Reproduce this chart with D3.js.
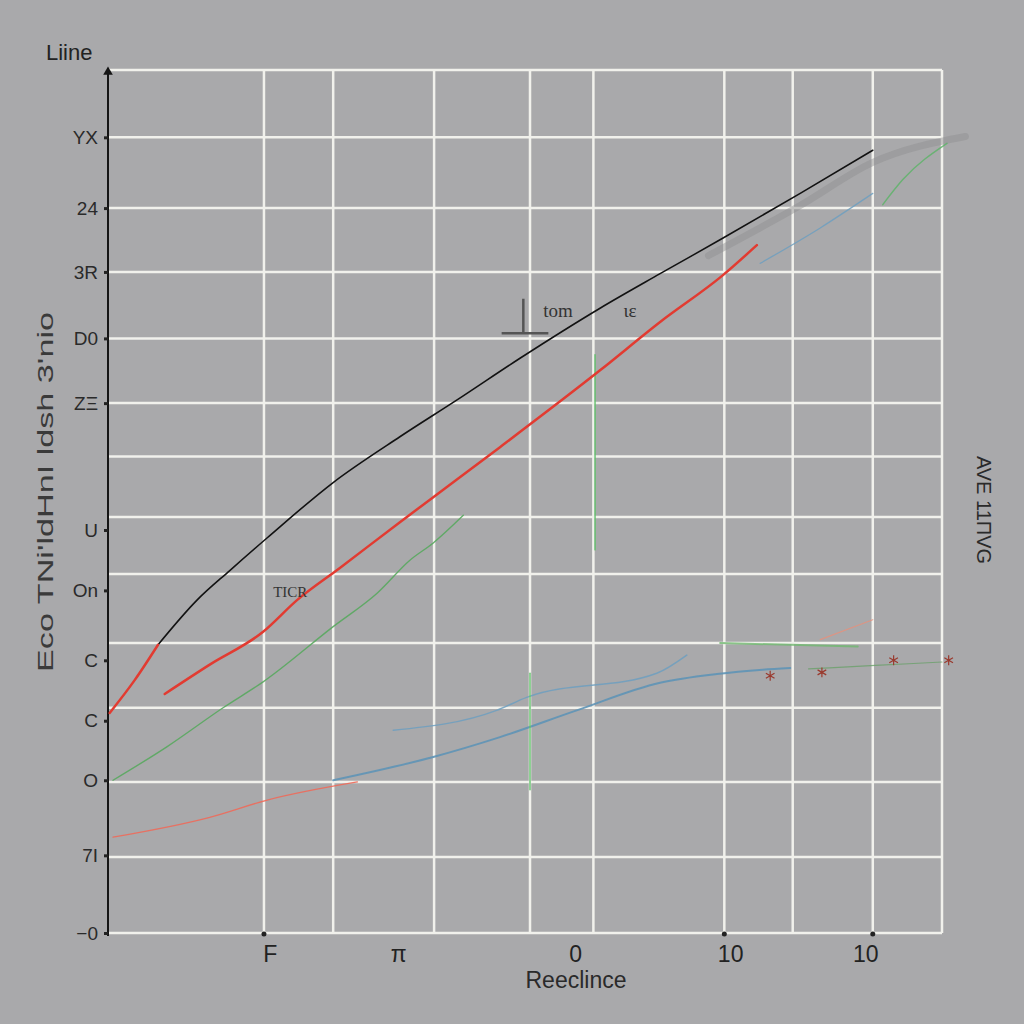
<!DOCTYPE html>
<html><head><meta charset="utf-8">
<script src="https://cdn.jsdelivr.net/npm/d3@7"></script>
<style>html,body{margin:0;padding:0;background:#a9a9ab;}svg{display:block;}</style>
</head><body>
<script>
// ---- data (chart units) ----
const xGrid = [18.7, 27.0, 39.1, 50.6, 58.2, 73.9, 82.1, 91.7, 100];
const yGrid = [100, 92.2, 84.0, 76.6, 68.9, 61.4, 55.2, 48.2, 41.6, 33.6, 26.1, 17.5, 8.8, 0];
const xTickValues = [19.4, 34.8, 56.0, 74.6, 90.8];
const xTickLabels = ["F", "π", "0", "10", "10"];
const yTickValues = [92.2, 84.0, 76.6, 68.9, 61.4, 46.7, 39.7, 31.6, 24.6, 17.7, 9.0, 0];
const yTickLabels = ["YX", "24", "3R", "D0", "ZΞ", "U", "On", "C", "C", "O", "7I", "−0"];
const title = "Liine";
const xTitle = "Reeclince";
const yTitle = "Eco TNi'ldHnI ldsh 3'nio";
const rightTitle = "AVE 11ΠVG";

const blackSeries = [[6.0,33.4],[10.7,38.6],[14.6,42.0],[19.1,45.8],[27.0,52.2],[35.0,57.5],[41.9,61.8],[49.4,66.6],[59.0,72.4],[66.2,76.4],[73.7,80.5],[83.0,85.7],[91.7,90.7]];
const redStart = [[0.2,25.5],[3.2,29.3],[6.0,33.4]];
const redSeries = [[6.8,27.7],[12.2,31.1],[18.6,34.9],[22.7,38.6],[27.8,42.3],[35.0,47.6],[39.0,50.5],[47.0,56.3],[59.0,65.2],[66.2,70.8],[73.7,76.2],[77.8,79.7]];
const greenSeries = [[0.6,17.7],[7.1,21.6],[13.8,26.1],[18.6,29.1],[27.0,35.5],[32.3,39.4],[36.2,43.2],[39.0,45.2],[42.6,48.4]];
const greenVert1 = [[58.4,44.4],[58.4,67.0]];
const greenVert2 = [[50.6,16.6],[50.6,30.1]];
const greenUpper = [[92.9,84.4],[95.3,87.3],[100.6,91.5]];
const greenFlat = [[73.4,33.6],[89.9,33.2]];
const greenLow = [[84.0,30.6],[92.0,31.0],[100.0,31.4]];
const blueLower = [[27.0,17.7],[39.0,20.4],[47.0,22.7],[56.2,25.8],[66.2,29.0],[73.0,30.0],[78.5,30.5],[81.8,30.7]];
const blueUpper = [[34.2,23.5],[46.6,25.8],[50.2,27.3],[65.8,30.1],[69.4,32.2]];
const blueTop = [[78.2,77.6],[85.4,81.7],[91.7,85.7]];
const redThin = [[0.6,11.1],[12.2,13.4],[19.1,15.4],[29.9,17.5]];
const orangeFaint = [[85.4,34.0],[91.7,36.3]];
const grayTrail = [[72.0,78.5],[83.0,84.3],[91.7,89.3],[102.8,92.3]];
const scribbles = [[79.4,29.8],[85.6,30.2],[94.2,31.6],[100.8,31.6]];
const notes = [{x:52.2,y:71.4,t:"tom"},{x:61.8,y:71.4,t:"ιε"},{x:19.8,y:38.9,t:"TICR"}];

// ---- drawing ----
const W = 1024, H = 1024;
const svg = d3.select("body").append("svg").attr("width", W).attr("height", H);
svg.append("rect").attr("width", W).attr("height", H).attr("fill", "#a9a9ab");
const x = d3.scaleLinear().domain([0, 100]).range([108, 942]);
const y = d3.scaleLinear().domain([0, 100]).range([933, 70]);
const font = "'Liberation Sans', Arial, sans-serif";

// grid
svg.append("g").selectAll("line").data(xGrid).join("line")
  .attr("x1", d => x(d)).attr("x2", d => x(d)).attr("y1", y(100)).attr("y2", y(0))
  .attr("stroke", "#f1f1ec").attr("stroke-width", 2.5);
svg.append("g").selectAll("line").data(yGrid).join("line")
  .attr("x1", x(0)).attr("x2", x(100)).attr("y1", d => y(d)).attr("y2", d => y(d))
  .attr("stroke", "#f1f1ec").attr("stroke-width", 2.5);

// y axis
const yAxis = d3.axisLeft(y).tickValues(yTickValues).tickFormat((d, i) => yTickLabels[i]).tickSize(4).tickPadding(6);
const gy = svg.append("g").attr("transform", `translate(${x(0)},0)`).call(yAxis);
gy.select(".domain").attr("stroke", "#151515").attr("stroke-width", 2).attr("d", `M0,${y(100)-2}V${y(0)+3}`);
gy.selectAll(".tick line").attr("stroke", "#222").attr("stroke-width", 3);
gy.selectAll(".tick text").attr("fill", "#2a2a2a").style("font-family", font).style("font-size", "19px");
svg.append("path").attr("d", d3.symbol(d3.symbolTriangle, 40)).attr("transform", `translate(${x(0)},${y(100)+2})`).attr("fill", "#151515");

// x axis
const xAxis = d3.axisBottom(x).tickValues(xTickValues).tickFormat((d, i) => xTickLabels[i]).tickSize(0).tickPadding(13);
const gx = svg.append("g").attr("transform", `translate(0,${y(0)})`).call(xAxis);
gx.select(".domain").remove();
gx.selectAll(".tick text").attr("fill", "#222").style("font-family", font).style("font-size", "23px");
svg.append("g").selectAll("circle").data([18.7, 73.9, 91.7]).join("circle")
  .attr("cx", d => x(d)).attr("cy", y(0)+1).attr("r", 2.5).attr("fill", "#222");

// titles
svg.append("text").attr("x", 46).attr("y", 60).text(title).attr("fill", "#222").style("font-family", font).style("font-size", "22px");
svg.append("text").attr("x", 576).attr("y", 988).attr("text-anchor", "middle").text(xTitle).attr("fill", "#2a2a2a").style("font-family", font).style("font-size", "23px");
svg.append("text").attr("transform", "translate(53,492) rotate(-90)").attr("text-anchor", "middle").text(yTitle)
  .attr("textLength", 360).attr("lengthAdjust", "spacingAndGlyphs").attr("fill", "#3a3a3a").style("font-family", font).style("font-size", "22px");
svg.append("text").attr("transform", "translate(977,510) rotate(90)").attr("text-anchor", "middle").text(rightTitle)
  .attr("fill", "#2a2a2a").style("font-family", font).style("font-size", "20px");

// lines
const smooth = d3.line().x(d => x(d[0])).y(d => y(d[1])).curve(d3.curveMonotoneX);
const straight = d3.line().x(d => x(d[0])).y(d => y(d[1]));
function draw(data, color, w, op, gen) {
  svg.append("path").datum(data).attr("d", gen || smooth).attr("fill", "none")
    .attr("stroke", color).attr("stroke-width", w).attr("stroke-opacity", op).attr("stroke-linecap", "round");
}
draw(grayTrail, "#8e8e90", 7, 0.45);
draw(greenFlat, "#6fb86f", 2, 0.8);
draw(greenLow, "#6aa06a", 1.2, 0.8);
draw(orangeFaint, "#e8907a", 1.2, 0.8);
draw(redThin, "#ee6a5a", 1.3, 0.9);
draw(blueUpper, "#6d9fc0", 1.5, 0.85);
draw(blueLower, "#5e93b6", 2, 0.9);
draw(blueTop, "#6d9fc0", 1.3, 0.85);
draw(greenSeries, "#58a85e", 1.4, 0.9);
draw(greenVert1, "#5fbf6a", 1.6, 0.85, straight);
draw(greenVert2, "#5fbf6a", 1.6, 0.85, straight);
draw(greenUpper, "#5fb36a", 1.5, 0.85);
draw(blackSeries, "#121212", 1.6, 1);
draw(redStart, "#e23b31", 2.5, 1);
draw(redSeries, "#e23b31", 2.5, 1);

// scribble marks
svg.append("g").selectAll("path").data(scribbles).join("path")
  .attr("d", d3.symbol(d3.symbolAsterisk, 70))
  .attr("transform", d => `translate(${x(d[0])},${y(d[1])})`)
  .attr("fill", "none").attr("stroke", "#9a3a2e").attr("stroke-width", 1.2);

// notes
svg.append("g").selectAll("text").data(notes).join("text")
  .attr("x", d => x(d.x)).attr("y", d => y(d.y)).text(d => d.t)
  .attr("fill", "#333").style("font-family", "'Liberation Serif', serif")
  .style("font-size", (d, i) => i === 2 ? "15px" : "19px");
svg.append("path").attr("d", `M${x(49.8)},${y(73.5)}V${y(69.5)}M${x(47.2)},${y(69.5)}H${x(52.8)}`)
  .attr("stroke", "#555").attr("stroke-width", 2.5).attr("fill", "none");
</script>
</body></html>
